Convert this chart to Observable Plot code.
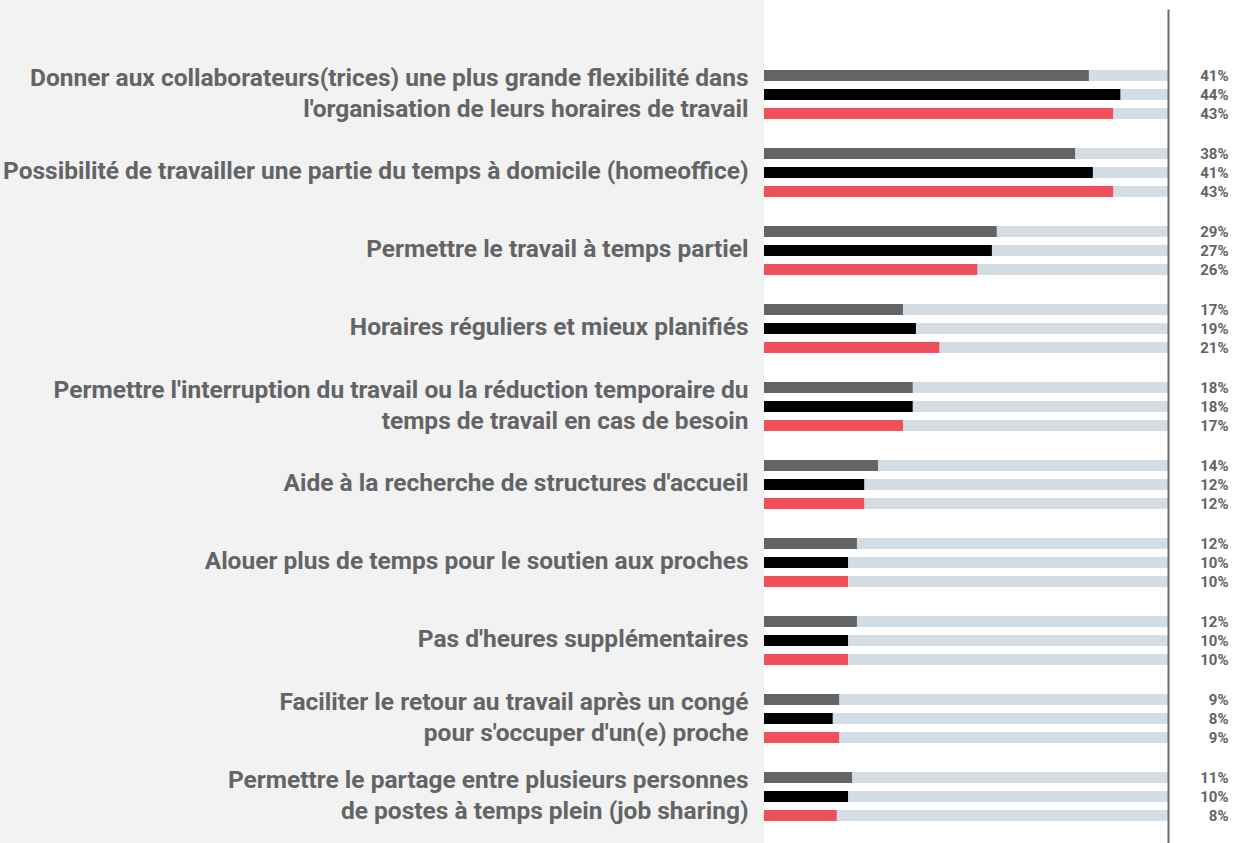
<!DOCTYPE html>
<html><head><meta charset="utf-8">
<script src="https://cdn.jsdelivr.net/npm/d3@7"></script>
<script src="https://cdn.jsdelivr.net/npm/@observablehq/plot@0.6"></script>
<style>body{margin:0;background:#fff;font-family:Roboto,sans-serif}</style>
</head><body><div id="chart"></div>
<script>
const categories = [
  "Donner aux collaborateurs(trices) une plus grande flexibilité dans\nl'organisation de leurs horaires de travail",
  "Possibilité de travailler une partie du temps à domicile (homeoffice)",
  "Permettre le travail à temps partiel",
  "Horaires réguliers et mieux planifiés",
  "Permettre l'interruption du travail ou la réduction temporaire du\ntemps de travail en cas de besoin",
  "Aide à la recherche de structures d'accueil",
  "Alouer plus de temps pour le soutien aux proches",
  "Pas d'heures supplémentaires",
  "Faciliter le retour au travail après un congé\npour s'occuper d'un(e) proche",
  "Permettre le partage entre plusieurs personnes\nde postes à temps plein (job sharing)"
];
const seriesNames = ["série 1", "série 2", "série 3"];
const seriesColors = ["#636466", "#000000", "#f0505c"];
const series1Values = [40.2, 38.5, 28.8, 17.2, 18.4, 14.1, 11.5, 11.5, 9.3, 10.9];
const series2Values = [44.1, 40.7, 28.2, 18.8, 18.4, 12.4, 10.4, 10.4, 8.5, 10.4];
const series3Values = [43.2, 43.2, 26.4, 21.7, 17.2, 12.4, 10.4, 10.4, 9.3, 9.0];
const series1Labels = ["41%", "38%", "29%", "17%", "18%", "14%", "12%", "12%", "9%", "11%"];
const series2Labels = ["44%", "41%", "27%", "19%", "18%", "12%", "10%", "10%", "8%", "10%"];
const series3Labels = ["43%", "43%", "26%", "21%", "17%", "12%", "10%", "10%", "9%", "8%"];
const xMax = 50;
const trackColor = "#d5dde4";
const textColor = "#636466";

const valueSets = [series1Values, series2Values, series3Values];
const labelSets = [series1Labels, series2Labels, series3Labels];
const rows = [];
categories.forEach((c, i) => {
  seriesNames.forEach((s, j) => {
    rows.push({category: c, series: s, value: valueSets[j][i], label: labelSets[j][i]});
  });
});

const chart = Plot.plot({
  width: 1241,
  height: 843,
  marginLeft: 764,
  marginRight: 73,
  marginTop: 9,
  marginBottom: 0,
  style: {
    background: "linear-gradient(to right, #f1f2f1 0px, #f1f2f1 764px, #ffffff 764px)",
    fontFamily: "Roboto, sans-serif"
  },
  x: {domain: [0, xMax], axis: null},
  y: {domain: seriesNames, paddingInner: 0.405, paddingOuter: 0.755, axis: null},
  fy: {domain: categories, paddingInner: 0, paddingOuter: 0.342, align: 0.871, label: null},
  color: {domain: seriesNames, range: seriesColors},
  marks: [
    Plot.barX(rows, {fy: "category", y: "series", x1: 0, x2: xMax, fill: trackColor}),
    Plot.barX(rows, {fy: "category", y: "series", x1: 0, x2: "value", fill: "series"}),
    Plot.text(rows, {fy: "category", y: "series", text: "label", frameAnchor: "right", dx: 60, dy: 0.5, textAnchor: "end", fontSize: 15, fontWeight: 700, fill: textColor}),
    Plot.frame({anchor: "right", stroke: "#6a6a6a", strokeWidth: 2, insetTop: -46, insetBottom: -8, facet: "super"}),
    Plot.axisFy({anchor: "left", tickSize: 0, tickPadding: 16, dy: -4, fontSize: 24.5, fontWeight: 700, color: textColor, lineHeight: 1.27, label: null})
  ]
});
document.getElementById("chart").appendChild(chart);
</script>
</body></html>
